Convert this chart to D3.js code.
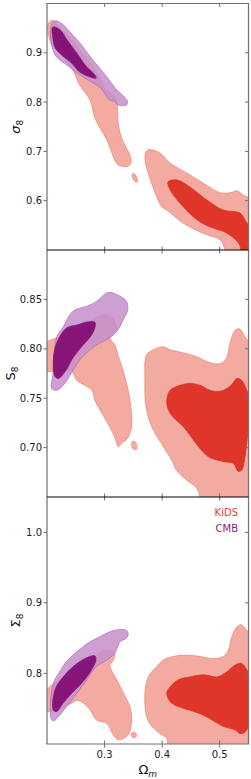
<!DOCTYPE html>
<html>
<head>
<meta charset="utf-8">
<script src="https://cdn.jsdelivr.net/npm/d3@7"></script>
<style>
  body { margin: 0; background: #fff; }
  svg { display: block; }
  text { font-family: "DejaVu Sans", sans-serif; }
</style>
</head>
<body>
<div id="chart"></div>
<script>
"use strict";

/* global d3 */

const xDomain = [0.2, 0.55];
const xTicks = [0.3, 0.4, 0.5];
const legendLabels = ['KiDS', 'CMB'];

const sigma8Domain = [0.5, 1.0];
const sigma8Ticks = [0.6, 0.7, 0.8, 0.9];
const s8Domain = [0.65, 0.9];
const s8Ticks = [0.70, 0.75, 0.80, 0.85];
const bigSigma8Domain = [0.7, 1.05];
const bigSigma8Ticks = [0.8, 0.9, 1.0];

// contour outlines, points are [Omega_m, parameter]
const sigma8KidsOuter = [
  [[0.202, 0.958], [0.209, 0.966], [0.223, 0.950], [0.240, 0.930], [0.257, 0.905], [0.275, 0.879],
   [0.292, 0.849], [0.302, 0.824], [0.309, 0.820], [0.318, 0.810], [0.322, 0.794], [0.323, 0.764],
   [0.327, 0.737], [0.335, 0.713], [0.344, 0.693], [0.346, 0.678], [0.341, 0.670], [0.330, 0.670],
   [0.322, 0.674], [0.304, 0.723], [0.283, 0.768], [0.275, 0.804], [0.257, 0.834], [0.245, 0.865],
   [0.226, 0.895], [0.209, 0.915], [0.202, 0.940]],
  [[0.348, 0.654], [0.351, 0.655], [0.356, 0.647], [0.357, 0.639], [0.354, 0.638], [0.349, 0.646]],
  [[0.370, 0.689], [0.375, 0.703], [0.396, 0.697], [0.414, 0.676], [0.443, 0.656], [0.471, 0.636],
   [0.501, 0.616], [0.518, 0.616], [0.530, 0.620], [0.540, 0.612], [0.556, 0.600], [0.556, 0.490],
   [0.516, 0.490], [0.501, 0.520], [0.471, 0.534], [0.436, 0.555], [0.408, 0.581], [0.400, 0.587],
   [0.384, 0.628]]
];
const sigma8KidsInner = [
  [[0.214, 0.956], [0.223, 0.946], [0.234, 0.922], [0.243, 0.899], [0.240, 0.892], [0.228, 0.909],
   [0.217, 0.929], [0.212, 0.946]],
  [[0.246, 0.885], [0.263, 0.878], [0.280, 0.861], [0.289, 0.848], [0.280, 0.848], [0.263, 0.858],
   [0.249, 0.872]],
  [[0.410, 0.638], [0.426, 0.642], [0.448, 0.628], [0.478, 0.601], [0.506, 0.581], [0.535, 0.575],
   [0.544, 0.561], [0.556, 0.534], [0.556, 0.490], [0.537, 0.490], [0.535, 0.510], [0.513, 0.534],
   [0.483, 0.547], [0.461, 0.561], [0.431, 0.595], [0.414, 0.622]]
];
const sigma8CmbOuter = [
  [[0.208, 0.956], [0.214, 0.965], [0.226, 0.959], [0.240, 0.942], [0.257, 0.920], [0.280, 0.885],
   [0.304, 0.851], [0.322, 0.824], [0.335, 0.810], [0.340, 0.801], [0.338, 0.794], [0.323, 0.794],
   [0.318, 0.801], [0.309, 0.804], [0.292, 0.830], [0.271, 0.845], [0.252, 0.859], [0.235, 0.875],
   [0.217, 0.891], [0.209, 0.911], [0.206, 0.940]]
];
const sigma8CmbInner = [
  [[0.210, 0.952], [0.223, 0.946], [0.235, 0.926], [0.252, 0.899], [0.269, 0.871], [0.283, 0.855],
   [0.285, 0.849], [0.275, 0.851], [0.257, 0.861], [0.243, 0.879], [0.226, 0.895], [0.214, 0.911],
   [0.210, 0.932]]
];

const s8KidsOuter = [
  [[0.195, 0.804], [0.223, 0.812], [0.236, 0.813], [0.257, 0.819], [0.283, 0.831], [0.297, 0.834],
   [0.309, 0.833], [0.318, 0.827], [0.320, 0.819], [0.313, 0.814], [0.309, 0.811], [0.318, 0.804],
   [0.323, 0.794], [0.330, 0.782], [0.339, 0.763], [0.344, 0.748], [0.347, 0.721], [0.338, 0.708],
   [0.330, 0.705], [0.324, 0.701], [0.318, 0.710], [0.309, 0.721], [0.292, 0.738], [0.283, 0.748],
   [0.278, 0.758], [0.266, 0.763], [0.252, 0.768], [0.243, 0.777], [0.234, 0.778], [0.205, 0.777],
   [0.195, 0.778]],
  [[0.348, 0.706], [0.353, 0.706], [0.356, 0.702], [0.355, 0.698], [0.349, 0.699], [0.347, 0.703]],
  [[0.373, 0.794], [0.385, 0.799], [0.402, 0.802], [0.414, 0.799], [0.436, 0.796], [0.460, 0.792],
   [0.483, 0.786], [0.501, 0.785], [0.512, 0.791], [0.518, 0.806], [0.527, 0.819], [0.535, 0.820],
   [0.544, 0.812], [0.556, 0.802], [0.556, 0.640], [0.475, 0.640], [0.460, 0.659], [0.443, 0.667],
   [0.425, 0.677], [0.417, 0.687], [0.402, 0.701], [0.382, 0.721], [0.372, 0.741], [0.370, 0.768]]
];
const s8KidsInner = [
  [[0.408, 0.748], [0.414, 0.758], [0.431, 0.763], [0.448, 0.765], [0.466, 0.763], [0.483, 0.758],
   [0.501, 0.757], [0.518, 0.762], [0.530, 0.770], [0.538, 0.768], [0.547, 0.758], [0.556, 0.741],
   [0.549, 0.715], [0.544, 0.691], [0.538, 0.677], [0.532, 0.676], [0.524, 0.684], [0.506, 0.686],
   [0.483, 0.690], [0.472, 0.695], [0.454, 0.708], [0.437, 0.721], [0.419, 0.731], [0.411, 0.738]]
];
const s8CmbOuter = [
  [[0.208, 0.760], [0.210, 0.773], [0.217, 0.812], [0.228, 0.822], [0.245, 0.838], [0.269, 0.843],
   [0.286, 0.848], [0.306, 0.857], [0.321, 0.855], [0.338, 0.848], [0.340, 0.839], [0.332, 0.829],
   [0.323, 0.819], [0.309, 0.811], [0.292, 0.806], [0.275, 0.799], [0.257, 0.789], [0.243, 0.776],
   [0.231, 0.765], [0.217, 0.758]]
];
const s8CmbInner = [
  [[0.214, 0.772], [0.211, 0.789], [0.217, 0.806], [0.234, 0.821], [0.252, 0.824], [0.269, 0.827],
   [0.283, 0.827], [0.283, 0.821], [0.275, 0.812], [0.260, 0.802], [0.243, 0.789], [0.234, 0.779],
   [0.220, 0.770]]
];

const bigSigma8KidsOuter = [
  [[0.196, 0.772], [0.209, 0.784], [0.223, 0.791], [0.240, 0.796], [0.257, 0.808], [0.275, 0.819],
   [0.289, 0.827], [0.297, 0.832], [0.311, 0.832], [0.318, 0.826], [0.313, 0.816], [0.309, 0.812],
   [0.321, 0.791], [0.333, 0.772], [0.344, 0.753], [0.347, 0.734], [0.341, 0.713], [0.324, 0.706],
   [0.315, 0.713], [0.304, 0.729], [0.286, 0.734], [0.275, 0.748], [0.263, 0.758], [0.252, 0.762],
   [0.243, 0.758], [0.217, 0.748], [0.202, 0.746], [0.196, 0.746]],
  [[0.348, 0.716], [0.353, 0.716], [0.356, 0.713], [0.353, 0.709], [0.348, 0.710], [0.346, 0.713]],
  [[0.370, 0.772], [0.376, 0.795], [0.391, 0.810], [0.402, 0.819], [0.419, 0.824], [0.443, 0.826],
   [0.466, 0.824], [0.489, 0.821], [0.506, 0.824], [0.515, 0.833], [0.521, 0.852], [0.530, 0.866],
   [0.538, 0.869], [0.546, 0.862], [0.556, 0.852], [0.556, 0.690], [0.413, 0.690], [0.408, 0.708],
   [0.396, 0.715], [0.382, 0.725], [0.373, 0.739]]
];
const bigSigma8KidsInner = [
  [[0.408, 0.772], [0.414, 0.781], [0.428, 0.791], [0.448, 0.795], [0.472, 0.798], [0.495, 0.795],
   [0.512, 0.802], [0.527, 0.812], [0.538, 0.814], [0.547, 0.805], [0.556, 0.786], [0.556, 0.739],
   [0.544, 0.717], [0.535, 0.715], [0.527, 0.720], [0.506, 0.725], [0.483, 0.736], [0.466, 0.743],
   [0.448, 0.748], [0.428, 0.753], [0.414, 0.760]]
];
const bigSigma8CmbOuter = [
  [[0.208, 0.734], [0.206, 0.758], [0.211, 0.786], [0.220, 0.800], [0.234, 0.817], [0.252, 0.831],
   [0.275, 0.845], [0.292, 0.852], [0.309, 0.859], [0.324, 0.862], [0.338, 0.861], [0.341, 0.857],
   [0.338, 0.850], [0.327, 0.845], [0.318, 0.829], [0.304, 0.819], [0.286, 0.810], [0.269, 0.791],
   [0.252, 0.772], [0.234, 0.753], [0.220, 0.739], [0.212, 0.733]]
];
const bigSigma8CmbInner = [
  [[0.211, 0.748], [0.214, 0.777], [0.228, 0.795], [0.246, 0.810], [0.266, 0.821], [0.283, 0.825],
   [0.285, 0.819], [0.275, 0.802], [0.260, 0.786], [0.243, 0.772], [0.228, 0.758], [0.217, 0.746]]
];

const colors = {
  kidsOuter: '#f3aba1',
  kidsOuterLine: '#ec8c7f',
  kidsInner: '#e0362a',
  kidsInnerLine: '#d93224',
  cmbOuter: '#c68fcc',
  cmbOuterLine: '#a865b0',
  cmbInner: '#7a006a',
  cmbInnerLine: '#7a006a',
  kidsText: '#e8402d',
  cmbText: '#8e1a86',
  spine: '#707070'
};

const width = 251;
const height = 779;
const left = 47;
const right = 248.5;

const panels = [
  { top: 3.5, bottom: 250, domain: sigma8Domain, ticks: sigma8Ticks, fmt: '.1f',
    label: 'σ', italic: true, kidsOuter: sigma8KidsOuter, kidsInner: sigma8KidsInner,
    cmbOuter: sigma8CmbOuter, cmbInner: sigma8CmbInner },
  { top: 250, bottom: 497, domain: s8Domain, ticks: s8Ticks, fmt: '.2f',
    label: 'S', italic: false, kidsOuter: s8KidsOuter, kidsInner: s8KidsInner,
    cmbOuter: s8CmbOuter, cmbInner: s8CmbInner },
  { top: 497, bottom: 744, domain: bigSigma8Domain, ticks: bigSigma8Ticks, fmt: '.1f',
    label: 'Σ', italic: false, kidsOuter: bigSigma8KidsOuter, kidsInner: bigSigma8KidsInner,
    cmbOuter: bigSigma8CmbOuter, cmbInner: bigSigma8CmbInner }
];

let svg = d3.select('#chart')
  .append('svg')
  .attr('width', width)
  .attr('height', height);

let x = d3.scaleLinear().domain(xDomain).range([left, right]);

panels.forEach((p, i) => {
  let y = d3.scaleLinear().domain(p.domain).range([p.bottom, p.top]);
  let clipId = 'clip' + i;

  svg.append('clipPath')
    .attr('id', clipId)
    .append('rect')
    .attr('x', left)
    .attr('y', p.top)
    .attr('width', right - left)
    .attr('height', p.bottom - p.top);

  let line = d3.line()
    .x(d => x(d[0]))
    .y(d => y(d[1]))
    .curve(d3.curveCatmullRomClosed.alpha(0.5));

  let g = svg.append('g').attr('clip-path', 'url(#' + clipId + ')');

  function drawSet(polys, fill, stroke, opacity) {
    g.append('g')
      .attr('opacity', opacity)
      .selectAll('path')
      .data(polys)
      .join('path')
      .attr('d', line)
      .attr('fill', fill)
      .attr('stroke', stroke)
      .attr('stroke-width', 0.8);
  }

  drawSet(p.kidsOuter, colors.kidsOuter, colors.kidsOuterLine, 1);
  drawSet(p.kidsInner, colors.kidsInner, colors.kidsInnerLine, 1);
  drawSet(p.cmbOuter, colors.cmbOuter, colors.cmbOuterLine, 0.85);
  drawSet(p.cmbInner, colors.cmbInner, colors.cmbInnerLine, 0.85);

  // left and right spines
  let frame = svg.append('g');
  frame.selectAll('.spine')
    .data([left, right])
    .join('line')
    .attr('x1', d => d).attr('x2', d => d)
    .attr('y1', p.top).attr('y2', p.bottom)
    .attr('stroke', colors.spine)
    .attr('stroke-width', 1.2);

  // y ticks: outward on the left, inward on the right
  let yt = frame.selectAll('.yt')
    .data(p.ticks)
    .join('g')
    .attr('transform', d => 'translate(0,' + y(d) + ')');
  yt.append('line')
    .attr('x1', left - 3.5).attr('x2', left)
    .attr('stroke', colors.spine).attr('stroke-width', 1);
  yt.append('line')
    .attr('x1', right - 3.5).attr('x2', right)
    .attr('stroke', colors.spine).attr('stroke-width', 1);
  yt.append('text')
    .attr('x', left - 5)
    .attr('dy', '0.35em')
    .attr('text-anchor', 'end')
    .attr('font-size', 10)
    .attr('fill', '#222')
    .text(d => d3.format(p.fmt)(d));

  // x ticks, inward at top and bottom
  let xt = frame.selectAll('.xt')
    .data(xTicks)
    .join('g')
    .attr('transform', d => 'translate(' + x(d) + ',0)');
  xt.append('line')
    .attr('y1', p.top).attr('y2', p.top + 3.5)
    .attr('stroke', colors.spine).attr('stroke-width', 1);
  xt.append('line')
    .attr('y1', p.bottom - 3.5).attr('y2', p.bottom)
    .attr('stroke', colors.spine).attr('stroke-width', 1);

  // y label
  let cy = (p.top + p.bottom) / 2;
  let lab = svg.append('text')
    .attr('transform', 'translate(' + (i === 1 ? 15 : 20) + ',' + cy + ') rotate(-90)')
    .attr('text-anchor', 'middle')
    .attr('font-size', 13)
    .attr('fill', '#111');
  lab.append('tspan')
    .attr('font-style', p.italic ? 'italic' : 'normal')
    .text(p.label);
  lab.append('tspan')
    .attr('font-size', 9)
    .attr('dy', 3)
    .text('8');
});

// outer top and bottom edges
svg.selectAll('.edge')
  .data([panels[0].top, panels[2].bottom])
  .join('line')
  .attr('x1', left - 0.6).attr('x2', right + 0.6)
  .attr('y1', d => d).attr('y2', d => d)
  .attr('stroke', colors.spine)
  .attr('stroke-width', 1.2);

// separators between panels
svg.selectAll('.sep')
  .data([panels[0].bottom, panels[1].bottom])
  .join('line')
  .attr('x1', left).attr('x2', right)
  .attr('y1', d => d).attr('y2', d => d)
  .attr('stroke', '#000')
  .attr('stroke-width', 1);

// bottom axis
let last = panels[2];
let bx = svg.append('g').selectAll('g')
  .data(xTicks)
  .join('g')
  .attr('transform', d => 'translate(' + x(d) + ',' + last.bottom + ')');
bx.append('line')
  .attr('y1', 0).attr('y2', 3.5)
  .attr('stroke', colors.spine).attr('stroke-width', 1);
bx.append('text')
  .attr('y', 14)
  .attr('text-anchor', 'middle')
  .attr('font-size', 10)
  .attr('fill', '#222')
  .text(d => d3.format('.1f')(d));

let xl = svg.append('text')
  .attr('x', (left + right) / 2)
  .attr('y', 774)
  .attr('text-anchor', 'middle')
  .attr('font-size', 13)
  .attr('fill', '#111');
xl.append('tspan').text('Ω');
xl.append('tspan')
  .attr('font-size', 9)
  .attr('font-style', 'italic')
  .attr('dy', 3)
  .text('m');

// legend
svg.selectAll('.legend')
  .data(legendLabels)
  .join('text')
  .attr('x', 238)
  .attr('y', (d, i) => 516 + i * 16)
  .attr('text-anchor', 'end')
  .attr('font-size', 10)
  .attr('fill', (d, i) => i === 0 ? colors.kidsText : colors.cmbText)
  .text(d => d);
</script>
</body>
</html>
